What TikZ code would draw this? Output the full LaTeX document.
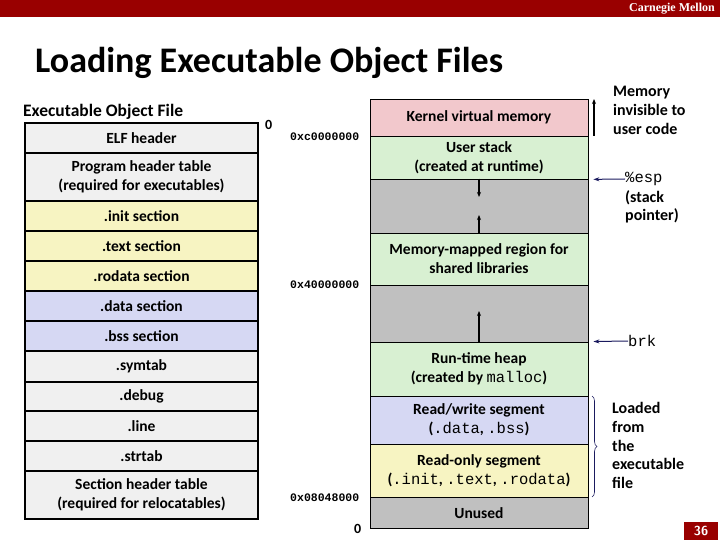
\documentclass[tikz,border=0pt]{standalone}
\usepackage{fontspec}
\setmainfont{Carlito}
\newfontfamily\cmufont{Liberation Serif}
\newfontfamily\monofont{Liberation Mono}
\usetikzlibrary{arrows.meta,decorations.pathreplacing}
\definecolor{cmured}{HTML}{990000}
\definecolor{fgray}{HTML}{F0F0F0}
\definecolor{fyellow}{HTML}{F7F4C2}
\definecolor{flav}{HTML}{D6D8F3}
\definecolor{mpink}{HTML}{F2C8CC}
\definecolor{mgreen}{HTML}{D8F0D2}
\definecolor{mgray}{HTML}{C0C0C0}
\definecolor{navy}{HTML}{1A1A5E}
\tikzset{
  fbox/.style={draw=black, line width=2.6pt, minimum width=233pt, inner sep=0pt, align=center, font=\fontsize{15.5}{19}\selectfont\bfseries},
  mbox/.style={draw=black, line width=0.8pt, minimum width=218pt, inner sep=0pt, align=center, font=\fontsize{15.5}{19}\selectfont\bfseries},
  addr/.style={font=\fontsize{11.5}{12}\selectfont\monofont\bfseries, inner sep=0pt},
  side/.style={font=\fontsize{16}{18.8}\selectfont\bfseries, align=left, inner sep=0pt},
  growarrow/.style={-{Stealth[length=5pt,width=4pt]}, line width=1.2pt},
  ptr/.style={-{Stealth[length=6pt,width=4pt]}, line width=1pt, draw=navy, shorten >=5pt},
}
\newcommand{\tcode}[1]{{\monofont\mdseries #1}}
\begin{document}
\begin{tikzpicture}[x=1pt,y=-1pt]
\useasboundingbox (0,0) rectangle (720,540);
% top bar
\fill[cmured] (0,0) rectangle (720,17.5);
\node[anchor=east, text=white, font=\fontsize{12}{12}\selectfont\cmufont\bfseries, inner sep=0pt] (cmu) at (715,9) {Carnegie Mellon};
% title
\node[anchor=base west, font=\fontsize{36}{38}\selectfont\bfseries, inner sep=0pt] (title) at (35,73) {Loading Executable Object Files};
% left column
\node[anchor=base west, font=\fontsize{17.5}{20}\selectfont\bfseries, inner sep=0pt] (eoftitle) at (23,117) {Executable Object File};
\node[fbox, fill=fgray, minimum height=30pt] (elf) at (141.5,138) {ELF header};
\node[fbox, fill=fgray, minimum height=48pt] (pht) at (141.5,177) {Program header table\\(required for executables)};
\node[fbox, fill=fyellow, minimum height=30pt] (init) at (141.5,216) {.init section};
\node[fbox, fill=fyellow, minimum height=30pt] (text) at (141.5,246) {.text section};
\node[fbox, fill=fyellow, minimum height=30pt] (rodata) at (141.5,276) {.rodata section};
\node[fbox, fill=flav, minimum height=30pt] (data) at (141.5,306) {.data section};
\node[fbox, fill=flav, minimum height=30pt] (bss) at (141.5,336) {.bss section};
\node[fbox, fill=fgray, minimum height=31pt] (symtab) at (141.5,366.5) {.symtab};
\node[fbox, fill=fgray, minimum height=29pt] (debug) at (141.5,396.5) {.debug};
\node[fbox, fill=fgray, minimum height=30pt] (line) at (141.5,426) {.line};
\node[fbox, fill=fgray, minimum height=30pt] (strtab) at (141.5,456) {.strtab};
\node[fbox, fill=fgray, minimum height=48pt] (sht) at (141.5,495) {Section header table\\(required for relocatables)};
% memory column
\node[mbox, fill=mpink, minimum height=37pt] (kern) at (479,117.5) {Kernel virtual memory};
\node[mbox, fill=mgreen, minimum height=43pt] (ustack) at (479,157.5) {User stack\\(created at runtime)};
\node[mbox, fill=mgray, minimum height=54pt] (gap1) at (479,206) {};
\node[mbox, fill=mgreen, minimum height=52pt] (mmap) at (479,259) {Memory-mapped region for\\shared libraries};
\node[mbox, fill=mgray, minimum height=57pt] (gap2) at (479,313.5) {};
\node[mbox, fill=mgreen, minimum height=54pt] (heap) at (479,369) {Run-time heap\\(created by \tcode{malloc})};
\node[mbox, fill=flav, minimum height=48pt] (rw) at (479,420) {Read/write segment\\(\tcode{.data}, \tcode{.bss})};
\node[mbox, fill=fyellow, minimum height=53pt] (ro) at (479,470.5) {Read-only segment\\(\tcode{.init}, \tcode{.text}, \tcode{.rodata})};
\node[mbox, fill=mgray, minimum height=31pt, text depth=0pt] (unused) at (479,512.5) {\raisebox{-1pt}{Unused}};
% growth arrows
\coordinate (sdown) at (479,197);
\coordinate (mup) at (479,215);
\coordinate (hup) at (479,311);
\draw[growarrow] (gap1.north) -- (sdown);
\draw[growarrow] (gap1.south) -- (mup);
\draw[growarrow] (gap2.south) -- (hup);
% addresses
\node[anchor=west, font=\fontsize{14}{14}\selectfont\bfseries, inner sep=0pt] (z1) at (265,125) {0};
\node[addr, anchor=west] (a1) at (290,137) {0xc0000000};
\node[addr, anchor=west] (a2) at (290,285) {0x40000000};
\node[addr, anchor=west] (a3) at (290,498) {0x08048000};
\node[anchor=west, font=\fontsize{14}{14}\selectfont\bfseries, inner sep=0pt] (z2) at (354,529) {0};
% right side annotations
\coordinate (invtop) at (594,99);
\coordinate (invbot) at (594,136);
\draw[growarrow, line width=1.4pt] (invbot) -- (invtop);
\node[side, anchor=north west] (inv) at (613,86) {Memory\\invisible to\\user code};
\node[anchor=west, inner sep=0pt, font=\fontsize{15.5}{15.5}\selectfont\monofont] (esp) at (625,179) {\%esp};
\node[side, anchor=north west] (espl) at (625,190) {(stack\\pointer)};
\draw[ptr] (esp.west) -- (ustack.south east);
\node[anchor=west, inner sep=0pt, font=\fontsize{15.5}{15.5}\selectfont\monofont] (brk) at (628,341) {brk};
\draw[ptr] (brk.west) -- (heap.north east);
\coordinate (btop) at (592,396);
\coordinate (bbot) at (592,497);
\draw[navy, line width=0.6pt, decorate, decoration={brace, amplitude=5pt}] (btop) -- (bbot);
\node[side, anchor=north west] (loaded) at (612,402) {Loaded\\from\\the\\executable\\file};
% page number
\node[fill=cmured, text=white, minimum width=34pt, minimum height=18pt, inner sep=0pt, font=\fontsize{13}{13}\selectfont\sffamily\bfseries] (pg) at (701,531) {36};
\end{tikzpicture}
\end{document}
